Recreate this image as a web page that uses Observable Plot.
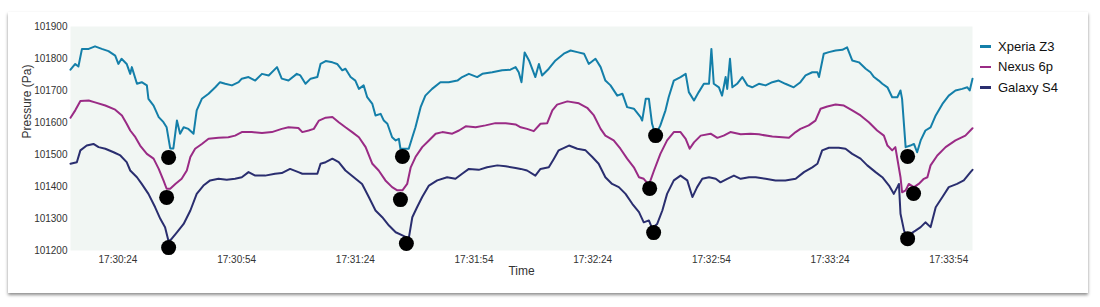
<!DOCTYPE html>
<html>
<head>
<meta charset="utf-8">
<script src="https://cdn.jsdelivr.net/npm/d3@7"></script>
<script src="https://cdn.jsdelivr.net/npm/@observablehq/plot@0.6"></script>
<style>
  html, body { margin: 0; padding: 0; background: #ffffff; }
  body { width: 1100px; height: 307px; position: relative; overflow: hidden; font-family: "Liberation Sans", Arial, Helvetica, sans-serif; }
  #card { position: absolute; left: 8px; top: 12px; width: 1080px; height: 281px; background: #fff;
          box-shadow: 0px 2px 3px rgba(0,0,0,0.45); }
  #chart { position: absolute; left: 0; top: 0; }
  #legend { position: absolute; left: 980px; top: 36px; font-size: 13px; color: #111; }
  .item { display: flex; align-items: center; height: 20.5px; }
  .sw { width: 11px; height: 2.5px; margin-right: 7px; }
</style>
</head>
<body>
<div id="card"></div>
<div id="chart"></div>
<div id="legend"></div>
<script>
// ---- data (time in seconds after startTime, pressure in Pa) ----
const startTime = "17:30:12";
const endTime = "17:34:00";
const xTickLabels = ["17:30:24","17:30:54","17:31:24","17:31:54","17:32:24","17:32:54","17:33:24","17:33:54"];
const yTicks = [101200,101300,101400,101500,101600,101700,101800,101900];
const seriesNames = ["Xperia Z3","Nexus 6p","Galaxy S4"];
const seriesColors = ["#147fa9","#9a2b85","#2a2e6f"];

const xperiaZ3 = [[0,101765],[1.2,101783],[2.0,101775],[2.9,101830],[4.6,101830],[6.2,101838],[7.9,101830],[9.6,101823],[11.3,101809],[12.1,101783],[12.9,101799],[14.2,101783],[15.1,101752],[15.5,101773],[16.8,101721],[18.0,101726],[19.3,101716],[19.7,101674],[21.0,101653],[22.3,101617],[23.5,101601],[24.3,101585],[25.2,101519],[26.0,101519],[26.9,101606],[27.7,101565],[28.6,101585],[29.8,101580],[31.1,101565],[31.9,101638],[33.2,101674],[34.9,101690],[36.6,101710],[37.8,101726],[39.1,101721],[40.8,101716],[42.5,101726],[43.3,101737],[45.0,101742],[46.7,101731],[48.4,101752],[50.1,101747],[52.2,101773],[53.4,101737],[55.1,101731],[57.2,101752],[58.1,101747],[59.4,101721],[60.7,101737],[62.4,101742],[63.2,101783],[64.5,101792],[66.2,101788],[67.4,101783],[68.7,101763],[69.5,101768],[70.8,101742],[72.0,101731],[72.9,101705],[74.1,101716],[75.0,101679],[76.3,101658],[77.1,101622],[78.4,101627],[79.2,101606],[80.1,101596],[81.3,101554],[82.2,101544],[83.0,101549],[83.4,101518],[84.7,101518],[85.5,101518],[86.4,101554],[87.2,101585],[88.5,101648],[89.7,101684],[91.4,101705],[93.5,101726],[95.6,101726],[97.8,101731],[99.0,101742],[100.7,101752],[102.8,101742],[104.1,101752],[106.6,101757],[109.1,101763],[111.2,101765],[112.5,101773],[113.3,101757],[114.0,101726],[114.8,101819],[115.9,101794],[117.5,101742],[118.4,101783],[119.2,101747],[120.9,101768],[122.6,101794],[124.7,101815],[126.4,101825],[128.1,101820],[129.8,101815],[131.0,101783],[132.7,101799],[134.0,101773],[135.2,101731],[136.5,101716],[138.2,101684],[139.5,101690],[140.7,101648],[142.4,101643],[144.1,101617],[144.5,101606],[145.4,101674],[146.2,101674],[147.0,101596],[147.9,101560],[149.1,101591],[150.4,101638],[151.2,101679],[152.5,101731],[154.2,101742],[155.5,101752],[156.3,101695],[157.6,101669],[158.8,101695],[160.1,101721],[161.4,101721],[162.0,101830],[162.6,101721],[163.9,101710],[164.7,101684],[165.6,101742],[166.0,101705],[166.7,101799],[167.3,101710],[168.5,101721],[169.8,101742],[171.1,101716],[172.3,101710],[174.0,101721],[175.7,101716],[177.4,101726],[179.0,101731],[180.7,101721],[182.8,101710],[184.5,101726],[185.8,101747],[187.5,101757],[188.8,101757],[189.2,101742],[190.4,101815],[191.7,101820],[193.4,101825],[195.1,101827],[196.3,101835],[197.6,101794],[199.3,101788],[201.0,101768],[202.2,101757],[203.1,101742],[204.3,101731],[205.2,101721],[206.5,101710],[207.7,101679],[209.0,101679],[209.8,101700],[210.2,101674],[211.1,101523],[212.3,101528],[213.2,101533],[214.0,101507],[214.9,101544],[216.1,101575],[217.4,101585],[218.7,101622],[220.4,101658],[222.0,101684],[223.7,101700],[225.4,101705],[226.7,101710],[227.3,101700],[228,101737]];

const nexus6p = [[0,101615],[1.2,101638],[2.5,101667],[4.6,101669],[6.2,101663],[8.8,101653],[11.3,101640],[13.0,101622],[14.2,101596],[15.1,101575],[16.4,101554],[17.6,101528],[19.3,101502],[21.0,101487],[22.3,101455],[23.5,101419],[24.3,101393],[25.2,101393],[26.5,101408],[28.1,101424],[29.4,101450],[30.3,101492],[31.5,101518],[33.2,101533],[34.9,101549],[37.4,101552],[39.9,101554],[41.6,101559],[43.3,101570],[45.8,101570],[48.4,101567],[50.9,101570],[53.4,101580],[55.1,101585],[57.6,101583],[58.6,101570],[60.2,101575],[61.5,101580],[62.8,101606],[64.5,101615],[66.2,101617],[67.8,101601],[69.5,101585],[71.2,101570],[72.9,101554],[74.6,101523],[76.3,101471],[77.9,101450],[79.6,101419],[81.3,101398],[82.6,101388],[83.9,101388],[85.1,101408],[86.0,101460],[87.2,101492],[88.9,101523],[90.6,101544],[92.3,101565],[94.0,101570],[96.5,101565],[98.2,101575],[99.9,101588],[102.4,101585],[104.9,101591],[107.4,101598],[110.0,101598],[112.5,101594],[113.8,101585],[115.4,101580],[117.1,101573],[118.8,101596],[120.5,101598],[121.8,101638],[123.0,101656],[125.6,101666],[128.5,101660],[130.6,101646],[132.3,101622],[134.0,101580],[135.2,101559],[137.3,101544],[139.0,101518],[140.7,101487],[142.4,101460],[143.7,101429],[144.9,101424],[146.2,101405],[147.5,101450],[149.1,101502],[150.8,101544],[152.5,101570],[154.2,101570],[155.5,101549],[156.5,101518],[157.6,101538],[159.3,101559],[161.8,101565],[163.5,101552],[165.1,101559],[166.8,101570],[169.4,101563],[171.9,101565],[174.0,101563],[177.4,101556],[181.6,101552],[183.3,101570],[184.5,101580],[186.6,101591],[188.3,101606],[189.6,101643],[191.3,101650],[193.4,101656],[195.5,101653],[197.6,101638],[199.7,101622],[201.8,101601],[203.9,101575],[205.6,101559],[206.5,101528],[207.7,101513],[208.5,101523],[209.8,101429],[210.2,101382],[211.1,101388],[211.9,101408],[213.2,101398],[214.4,101408],[215.7,101424],[216.6,101429],[217.4,101466],[219.1,101497],[221.2,101523],[223.7,101544],[226.2,101559],[228,101582]];

const galaxyS4 = [[0,101471],[1.6,101476],[2.5,101513],[4.1,101528],[5.8,101533],[7.1,101523],[8.8,101518],[10.9,101507],[12.6,101497],[14.2,101476],[15.1,101450],[16.8,101429],[18.0,101408],[19.7,101377],[21.4,101335],[22.7,101299],[23.9,101273],[24.8,101228],[25.6,101237],[26.9,101257],[28.6,101283],[30.3,101325],[31.9,101377],[33.6,101403],[35.3,101419],[37.4,101424],[39.5,101421],[41.6,101424],[43.3,101429],[45.0,101445],[46.7,101434],[49.2,101434],[51.7,101440],[53.4,101442],[55.5,101455],[57.6,101445],[58.6,101440],[60.2,101440],[62.4,101440],[63.2,101471],[64.5,101476],[66.2,101487],[67.8,101476],[69.5,101450],[71.6,101429],[73.7,101408],[75.4,101367],[77.1,101325],[78.8,101304],[80.5,101278],[82.2,101257],[83.9,101247],[85.5,101238],[86.4,101304],[87.6,101335],[88.9,101367],[90.6,101403],[92.7,101419],[95.2,101429],[97.3,101424],[99.0,101440],[100.7,101455],[103.2,101452],[105.3,101460],[107.9,101466],[110.0,101463],[112.5,101458],[113.8,101455],[115.4,101450],[117.5,101434],[118.8,101455],[120.9,101460],[122.2,101487],[123.4,101513],[126.0,101528],[128.1,101518],[130.2,101513],[131.9,101492],[133.5,101471],[135.2,101429],[136.9,101408],[138.6,101398],[140.3,101377],[142.0,101346],[143.7,101320],[144.9,101288],[146.2,101294],[147.0,101270],[148.3,101283],[149.6,101325],[150.8,101377],[152.5,101419],[154.2,101434],[155.9,101419],[157.2,101367],[158.4,101398],[159.7,101424],[161.4,101429],[163.1,101424],[164.3,101413],[166.0,101424],[167.7,101434],[169.4,101424],[171.5,101429],[173.2,101429],[175.7,101424],[178.2,101419],[180.7,101419],[183.3,101424],[185.4,101445],[187.5,101460],[188.8,101471],[190.0,101513],[191.7,101521],[194.2,101521],[195.9,101518],[197.6,101502],[199.7,101487],[201.4,101466],[203.5,101445],[205.2,101429],[206.9,101403],[208.1,101377],[209.0,101398],[209.4,101408],[209.8,101315],[210.7,101262],[211.5,101241],[212.3,101252],[213.6,101262],[214.9,101273],[216.1,101288],[217.4,101273],[218.7,101335],[220.4,101367],[222.0,101398],[224.1,101408],[225.8,101419],[227.5,101445],[228,101452]];

const markerTimes = [24.8,24.3,24.8, 83.9,83.4,84.9, 147.9,146.4,147.4, 211.6,213.1,211.6];
const markerPressures = [101491,101366,101209, 101494,101359,101222, 101559,101394,101256, 101494,101378,101237];

// ---- build ----
function hms(str) { const [h, m, s] = str.split(":").map(Number); return new Date(2000, 0, 1, h, m, s); }
const t0 = hms(startTime);
const at = (sec) => new Date(t0.getTime() + sec * 1000);

const seriesData = [xperiaZ3, nexus6p, galaxyS4];
const rows = seriesData.flatMap((arr, i) => arr.map(([t, p]) => ({series: seriesNames[i], time: at(t), pressure: p})));
const markers = markerTimes.map((t, i) => ({time: at(t), pressure: markerPressures[i]}));

const chart = Plot.plot({
  width: 1100,
  height: 307,
  marginLeft: 70,
  marginRight: 128,
  marginTop: 26,
  marginBottom: 57,
  style: {background: "transparent", fontFamily: "'Liberation Sans', Arial, Helvetica, sans-serif", fontSize: "10px", color: "#333"},
  x: {type: "time", domain: [hms(startTime), hms(endTime)], ticks: xTickLabels.map(hms), tickFormat: d3.timeFormat("%H:%M:%S"), tickSize: 0, tickPadding: 5, label: null},
  y: {domain: [101200, 101900], ticks: yTicks, tickFormat: (d) => String(d), tickSize: 0, tickPadding: 3, label: null},
  color: {domain: seriesNames, range: seriesColors},
  marks: [
    Plot.frame({fill: "#f1f6f3", stroke: null}),
    Plot.line(rows, {x: "time", y: "pressure", z: "series", stroke: "series", strokeWidth: 2, strokeLinejoin: "round", curve: "linear"}),
    Plot.dot(markers, {x: "time", y: "pressure", r: 7.5, fill: "#000", stroke: null}),
    Plot.text(["Time"], {frameAnchor: "bottom", dy: 21, fontSize: 12, fill: "#333", lineAnchor: "middle"}),
    Plot.text(["Pressure (Pa)"], {frameAnchor: "left", dx: -43, rotate: -90, fontSize: 12, fill: "#333", lineAnchor: "middle"})
  ]
});
document.getElementById("chart").appendChild(chart);

const legend = document.getElementById("legend");
seriesNames.forEach((name, i) => {
  const item = document.createElement("div");
  item.className = "item";
  const sw = document.createElement("div");
  sw.className = "sw";
  sw.style.background = seriesColors[i];
  const label = document.createElement("span");
  label.textContent = name;
  item.appendChild(sw);
  item.appendChild(label);
  legend.appendChild(item);
});
</script>
</body>
</html>
